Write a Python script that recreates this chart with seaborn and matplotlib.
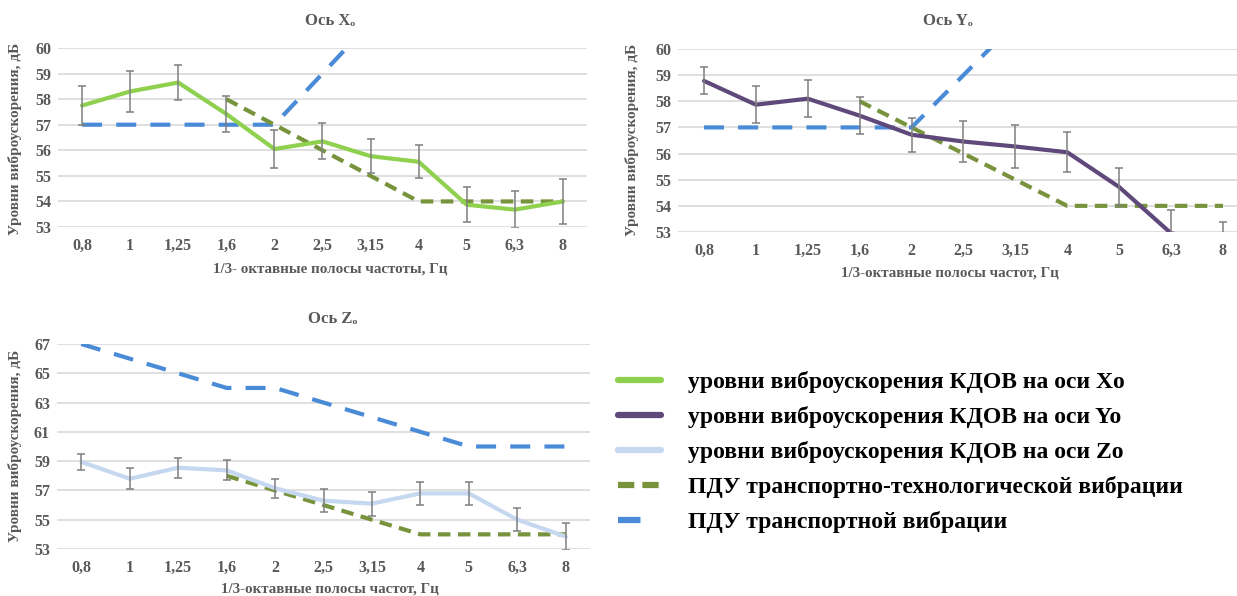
import numpy as np
import pandas as pd
import seaborn as sns
import matplotlib.pyplot as plt
from matplotlib.lines import Line2D

# ---------------- data ----------------
freqs = ["0,8", "1", "1,25", "1,6", "2", "2,5", "3,15", "4", "5", "6,3", "8"]

x_levels = [57.75, 58.3, 58.65, 57.42, 56.05, 56.35, 55.77, 55.55, 53.87, 53.68, 54.0]
x_err = [0.75, 0.8, 0.67, 0.72, 0.75, 0.7, 0.66, 0.65, 0.68, 0.72, 0.87]

y_levels = [58.78, 57.87, 58.1, 57.45, 56.72, 56.46, 56.27, 56.05, 54.72, 52.95, 52.6]
y_err = [0.52, 0.7, 0.7, 0.7, 0.65, 0.8, 0.84, 0.76, 0.72, 0.9, 0.78]

z_levels = [58.95, 57.8, 58.55, 58.37, 57.15, 56.3, 56.1, 56.8, 56.8, 55.0, 53.85]
z_err = [0.55, 0.7, 0.68, 0.68, 0.65, 0.77, 0.82, 0.77, 0.77, 0.8, 0.9]

tech_freqs = ["1,6", "2", "2,5", "3,15", "4", "5", "6,3", "8"]
tech_limit = [58, 57, 56, 55, 54, 54, 54, 54]
transport_xy = [57, 57, 57, 57, 57, 59, 61, 63, 65, 67, 69]
transport_z = [67, 66, 65, 64, 64, 63, 62, 61, 60, 60, 60]

titles = ["Ось Xₒ", "Ось Yₒ", "Ось Zₒ"]
xlabels = ["1/3- октавные полосы частоты, Гц",
           "1/3-октавные полосы частот, Гц",
           "1/3-октавные полосы частот, Гц"]
ylabel = "Уровни виброускорения, дБ"
legend_labels = ["уровни виброускорения КДОВ на оси Xo",
                 "уровни виброускорения КДОВ на оси Yo",
                 "уровни виброускорения КДОВ на оси Zo",
                 "ПДУ транспортно-технологической вибрации",
                 "ПДУ транспортной вибрации"]

# ---------------- style ----------------
sns.set_theme(style="white")
plt.rcParams['font.family'] = ['Liberation Serif', 'DejaVu Serif']
plt.rcParams['font.weight'] = 'bold'

C_X = "#8fd14f"
C_Y = "#5f497a"
C_Z = "#c5d8ef"
C_TECH = "#77933c"
C_TRANS = "#4a8bd8"
C_ERR = "#7f7f7f"
C_TXT = "#595959"
C_GRID = "#d9d9d9"

W, H = 1237, 596
fig = plt.figure(figsize=(W / 100, H / 100), dpi=100)


def add_axes(left, right, top, bottom):
    return fig.add_axes([left / W, 1 - bottom / H, (right - left) / W, (bottom - top) / H])


ax_x = add_axes(58, 587, 48, 227)
ax_y = add_axes(678, 1237, 49, 232)
ax_z = add_axes(57, 590, 344, 549)

pos = {f: i for i, f in enumerate(freqs)}
tech_pos = [pos[f] for f in tech_freqs]

LW = 3.0
trans_ls = (0, (4.8, 3.4))
tech_ls = (0, (3.0, 1.8))


def draw(ax, levels, err, color, transport, ylim, yticks):
    idx = np.arange(len(freqs))
    df_tr = pd.DataFrame({"x": idx, "y": transport})
    df_te = pd.DataFrame({"x": tech_pos, "y": tech_limit})
    df_d = pd.DataFrame({"x": idx, "y": levels})
    sns.lineplot(data=df_tr, x="x", y="y", ax=ax, color=C_TRANS, lw=LW,
                 linestyle=trans_ls, zorder=3)
    sns.lineplot(data=df_te, x="x", y="y", ax=ax, color=C_TECH, lw=LW,
                 linestyle=tech_ls, zorder=3)
    sns.lineplot(data=df_d, x="x", y="y", ax=ax, color=color, lw=LW, zorder=4)
    ax.errorbar(idx, levels, yerr=err, fmt="none", ecolor=C_ERR, elinewidth=1.1,
                capsize=3, capthick=1.1, zorder=5)
    ax.set_xlim(-0.5, len(freqs) - 0.5)
    ax.set_ylim(*ylim)
    ax.set_yticks(yticks)
    ax.set_xticks(idx)
    ax.set_xticklabels(freqs)
    ax.grid(axis="y", color=C_GRID, lw=1.2)
    ax.grid(axis="x", visible=False)
    for s in ax.spines.values():
        s.set_visible(False)
    ax.tick_params(axis="both", length=0, labelsize=11.5, labelcolor=C_TXT)
    ax.tick_params(axis="x", pad=8)
    ax.tick_params(axis="y", pad=5)
    for lab in ax.get_xticklabels() + ax.get_yticklabels():
        lab.set_fontweight("bold")
    ax.set_xlabel("")
    ax.set_ylabel("")
    return ax


draw(ax_x, x_levels, x_err, C_X, transport_xy, (53, 60), range(53, 61))
draw(ax_y, y_levels, y_err, C_Y, transport_xy, (53, 60), range(53, 61))
ax_y.set_xlim(-0.5, 10.27)
draw(ax_z, z_levels, z_err, C_Z, transport_z, (53, 67), range(53, 68, 2))


def ftext(x, y, s, **kw):
    fig.text(x / W, 1 - y / H, s, ha="center", va="center", **kw)


tkw = dict(fontsize=12, fontweight="bold", color=C_TXT)
ftext(330, 21, titles[0], **tkw)
ftext(948, 21, titles[1], **tkw)
ftext(333, 319, titles[2], **tkw)

xkw = dict(fontsize=10.8, fontweight="bold", color=C_TXT)
ftext(330, 269, xlabels[0], **xkw)
ftext(950, 273, xlabels[1], **xkw)
ftext(330, 589, xlabels[2], **xkw)

ykw = dict(fontsize=11, fontweight="bold", color=C_TXT, rotation=90)
ftext(15, 139, ylabel, **ykw)
ftext(632, 140, ylabel, **ykw)
ftext(15, 446, ylabel, **ykw)

# legend
handles = [
    Line2D([], [], color=C_X, lw=4.5, solid_capstyle="round"),
    Line2D([], [], color=C_Y, lw=4.5, solid_capstyle="round"),
    Line2D([], [], color=C_Z, lw=4.5, solid_capstyle="round"),
    Line2D([], [], color=C_TECH, lw=4.5, linestyle=(0, (2.6, 1.3))),
    Line2D([], [], color=C_TRANS, lw=4.5, linestyle=(0, (3.6, 20))),
]
leg = fig.legend(handles, legend_labels, loc="upper left",
                 bbox_to_anchor=(618 / W, 1 - 371 / H), frameon=False,
                 borderaxespad=0, borderpad=0, handlelength=1.8,
                 handletextpad=1.15, labelspacing=0.55,
                 prop={"family": ["Liberation Serif", "DejaVu Serif"],
                       "weight": "bold", "size": 17})
for t in leg.get_texts():
    t.set_color("black")

fig.savefig("out.png", dpi=100)
